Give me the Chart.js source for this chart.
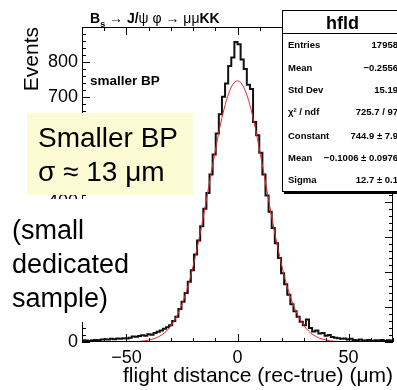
<!DOCTYPE html>
<html>
<head>
<meta charset="utf-8">
<script src="https://cdn.jsdelivr.net/npm/chart.js@4.4.1/dist/chart.umd.min.js"></script>
<style>
    body { margin: 0; background: #fff; }
    #wrap { position: relative; width: 397px; height: 390px; overflow: hidden; background: #fff;
            font-family: "Liberation Sans", Arial, Helvetica, sans-serif; color: #000; }
    #c { position: absolute; left: 0; top: 0; }
    .ov { position: absolute; white-space: nowrap; }
    #title { left: 90px; top: 10px; font-size: 14px; line-height: 17px; font-weight: bold; }
    #title .g { font-weight: normal; }
    #tag { left: 90px; top: 73px; font-size: 13.5px; line-height: 16px; font-weight: bold; }
    #note { left: 27px; top: 113px; width: 166px; height: 82px; background: #fdfbd3;
            box-sizing: border-box; padding: 8px 0 0 11px; font-size: 28px; line-height: 34px; }
    #sample { left: 0; top: 199px; width: 148px; height: 123px; background: #fff;
              box-sizing: border-box; padding: 14px 0 0 12px; font-size: 27px; line-height: 34px; }
    #stats { left: 282px; top: 10px; width: 121px; height: 182px; background: #fff;
             border: 1px solid #000; box-shadow: 2px 2px 0 #000; box-sizing: border-box; }
    #stats .head { position: absolute; left: 0; right: 0; top: 2px; height: 20px; line-height: 20px;
                   text-align: center; font-size: 18px; font-weight: bold; border-bottom: 1px solid #000; }
    #stats .row { position: absolute; left: 5px; right: 4px; height: 12px; line-height: 12px;
                  font-size: 9.5px; font-weight: bold; }
    #stats .row span { position: absolute; right: 0; top: 0; }
</style>
</head>
<body>
<div id="wrap">
    <canvas id="c" width="397" height="390"></canvas>
    <div class="ov" id="title">B<sub style="font-size:9px">s</sub> <span class="g">→</span> J/<span class="g">ψ</span> <span class="g">φ</span> <span class="g">→</span> <span class="g">μμ</span>KK</div>
    <div class="ov" id="tag">smaller BP</div>
    <div class="ov" id="note">Smaller BP<br>σ ≈ 13 μm</div>
    <div class="ov" id="sample">(small<br>dedicated<br>sample)</div>
    <div class="ov" id="stats"></div>
</div>
<script>
// histograma: 100 bins de -70 a 70
const xMin = -70;
const xMax = 70;
const binWidth = 1.4;
const counts = [
    5, 4, 3, 5, 6, 5, 7, 8, 7, 9,
    8, 10, 9, 11, 10, 12, 16, 15, 17, 19,
    18, 22, 21, 26, 29, 33, 38, 42, 48, 60,
    72, 94, 115, 140, 172, 205, 250, 290, 330, 380,
    425, 478, 535, 595, 650, 700, 738, 788, 812, 856,
    850, 806, 779, 734, 722, 628, 590, 540, 478, 418,
    372, 325, 282, 240, 196, 165, 135, 108, 88, 72,
    58, 48, 64, 40, 30, 33, 24, 26, 18, 20,
    14, 12, 11, 9, 10, 7, 9, 6, 5, 7,
    4, 5, 6, 3, 5, 4, 6, 3, 5, 4
];

// curva do ajuste gaussiano
const fitX = [-50, -48, -46, -44, -42, -40, -38, -36, -34, -32, -30, -28, -26, -24, -22, -20, -18, -16, -14, -12, -10, -8, -6, -4, -2,
    0, 2, 4, 6, 8, 10, 12, 14, 16, 18, 20, 22, 24, 26, 28, 30, 32, 34, 36, 38, 40, 42, 44, 46, 48, 50];
const fitY = [0.3, 0.6, 1.1, 1.9, 3.2, 5.3, 8.6, 13.5, 20.7, 31, 46, 66, 92, 125, 166, 216, 273, 337, 406, 477, 546, 611, 666, 709, 736,
    745, 736, 709, 666, 611, 546, 477, 406, 337, 273, 216, 166, 125, 92, 66, 46, 31, 20.7, 13.5, 8.6, 5.3, 3.2, 1.9, 1.1, 0.6, 0.3];

// ticks
const xTicks = [-50, 0, 50];
const yTicks = [0, 100, 200, 300, 400, 500, 600, 700, 800];
const yMax = 899;

// caixa de estatisticas
const statLabels = ['Entries', 'Mean', 'Std Dev', 'χ² / ndf', 'Constant', 'Mean', 'Sigma'];
const statValues = ['17958', '−0.2556', '15.19', '725.7 / 97', '744.9 ± 7.9', '−0.1006 ± 0.0976', '12.7 ± 0.1'];

// montar caixa de estatisticas
const stats = document.getElementById('stats');
stats.innerHTML = '<div class="head">hfld</div>';
const rowTops = [28, 51, 73, 95, 119, 141, 163];
statLabels.forEach((lab, i) => {
    const row = document.createElement('div');
    row.className = 'row';
    row.style.top = rowTops[i] + 'px';
    row.innerHTML = lab + '<span>' + statValues[i] + '</span>';
    stats.appendChild(row);
});

// pontos do histograma (borda inferior de cada bin)
const histPoints = counts.map((v, i) => ({ x: xMin + i * binWidth, y: v }));
histPoints.push({ x: xMax, y: counts[counts.length - 1] });
const fitPoints = fitX.map((x, i) => ({ x: x, y: fitY[i] }));

const font = 'Liberation Sans, Arial, Helvetica, sans-serif';

// moldura e ticks para dentro, estilo ROOT
const framePlugin = {
    id: 'frame',
    afterDatasetsDraw(chart) {
        const { ctx, chartArea: a, scales } = chart;
        ctx.save();
        ctx.strokeStyle = '#000';
        ctx.lineWidth = 1;
        ctx.strokeRect(a.left + 0.5, a.top + 0.5, a.right - a.left - 1, a.bottom - a.top - 1);
        ctx.beginPath();
        for (let v = -70; v <= 70; v += 10) {
            const px = Math.round(scales.x.getPixelForValue(v)) + 0.5;
            const len = (v % 50 === 0) ? 8 : 4;
            ctx.moveTo(px, a.bottom); ctx.lineTo(px, a.bottom - len);
            ctx.moveTo(px, a.top); ctx.lineTo(px, a.top + len);
        }
        for (let v = 0; v <= yMax; v += 20) {
            const py = Math.round(scales.y.getPixelForValue(v)) + 0.5;
            const len = (v % 100 === 0) ? 8 : 4;
            ctx.moveTo(a.left, py); ctx.lineTo(a.left + len, py);
            ctx.moveTo(a.right, py); ctx.lineTo(a.right - len, py);
        }
        ctx.stroke();
        ctx.restore();
    }
};

new Chart(document.getElementById('c'), {
    type: 'line',
    data: {
        datasets: [
            {
                label: 'fit',
                data: fitPoints,
                borderColor: '#e0282c',
                borderWidth: 1,
                pointRadius: 0,
                cubicInterpolationMode: 'monotone',
                fill: false
            },
            {
                label: 'hfld',
                data: histPoints,
                borderColor: '#111',
                borderWidth: 2,
                pointRadius: 0,
                stepped: 'before',
                fill: false
            }
        ]
    },
    options: {
        responsive: false,
        devicePixelRatio: 1,
        animation: false,
        layout: { padding: { top: 27, right: 4, left: 0, bottom: 0 } },
        plugins: { legend: { display: false }, tooltip: { enabled: false } },
        scales: {
            x: {
                type: 'linear',
                min: xMin,
                max: xMax,
                afterBuildTicks: s => { s.ticks = xTicks.map(v => ({ value: v })); },
                afterFit: s => { s.height = 48; },
                grid: { display: false, drawTicks: false },
                border: { display: false },
                ticks: {
                    color: '#000', padding: 5, maxRotation: 0, autoSkip: false,
                    font: { family: font, size: 18 },
                    callback: v => String(v).replace('-', '−')
                },
                title: {
                    display: true, text: 'flight distance (rec-true) (μm)', align: 'end', color: '#000',
                    font: { family: font, size: 21 }, padding: { top: 0, bottom: 1 }
                }
            },
            y: {
                type: 'linear',
                min: 0,
                max: yMax,
                afterBuildTicks: s => { s.ticks = yTicks.map(v => ({ value: v })); },
                afterFit: s => { s.width = 82; },
                grid: { display: false, drawTicks: false },
                border: { display: false },
                ticks: { color: '#000', padding: 4, autoSkip: false, font: { family: font, size: 18 } },
                title: {
                    display: true, text: 'Events', align: 'end', color: '#000',
                    font: { family: font, size: 21 }, padding: { top: 20, bottom: 0 }
                }
            }
        }
    },
    plugins: [framePlugin]
});
</script>
</body>
</html>
